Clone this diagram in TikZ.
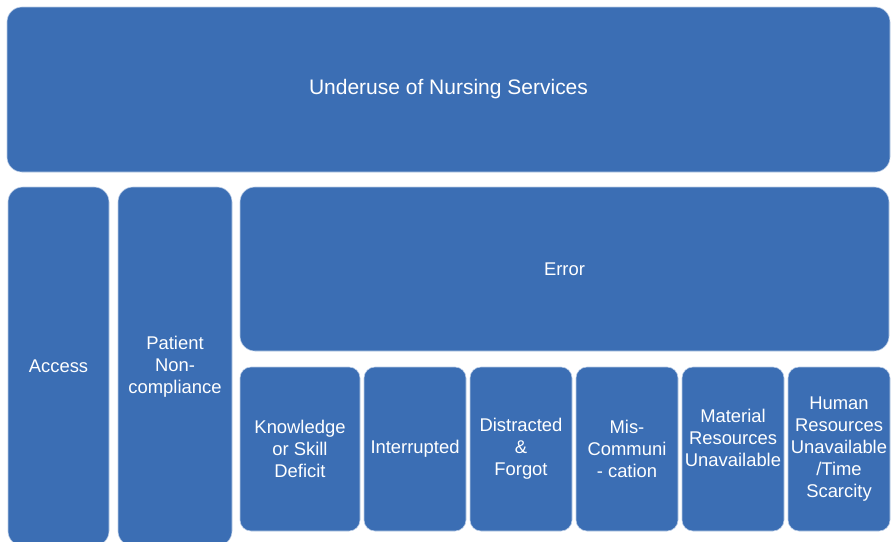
\documentclass[tikz,border=0pt]{standalone}
\usepackage{fontspec}
\setmainfont{Liberation Sans}
\definecolor{boxblue}{RGB}{59,110,180}
\tikzset{
  block/.style={fill=boxblue, draw=white!65!boxblue, line width=0.6pt,
    text=white, align=center, inner sep=0pt, anchor=center},
  bigblock/.style={block, rounded corners=15pt},
  smallblock/.style={block, rounded corners=11pt},
  big text/.style={font=\fontsize{21}{25}\selectfont},
  small text/.style={font=\fontsize{18.4}{22}\selectfont},
}
\begin{document}
\begin{tikzpicture}[x=1pt,y=-1pt]
\useasboundingbox (0,0) rectangle (894,541);
\clip (0,0) rectangle (894,541);
% top banner
\node[bigblock, big text, minimum width=883pt, minimum height=165pt] (underuse) at (448.5,89.5) {\raisebox{-2pt}{Underuse of Nursing Services}};
% left columns
\node[bigblock, small text, minimum width=101pt, minimum height=359pt] (access) at (58.5,366.5) {Access};
\node[bigblock, small text, minimum width=114pt, minimum height=359pt] (patient) at (175,366.5) {Patient\\Non-\\compliance};
% error banner
\node[bigblock, small text, minimum width=649pt, minimum height=164pt] (error) at (564.5,269) {Error};
% error causes
\node[smallblock, small text, minimum width=120pt, minimum height=164pt] (knowledge) at (300,449) {Knowledge\\or Skill\\Deficit};
\node[smallblock, small text, minimum width=102pt, minimum height=164pt] (interrupted) at (415,449) {Interrupted};
\node[smallblock, small text, minimum width=102pt, minimum height=164pt] (distracted) at (521,449) {Distracted\\\&\\Forgot};
\node[smallblock, small text, minimum width=102pt, minimum height=164pt] (miscomm) at (627,449) {Mis-\\Communi\\- cation};
\node[smallblock, small text, minimum width=102pt, minimum height=164pt] (material) at (733,449) {Material\\Resources\\Unavailable\\\mbox{}};
\node[smallblock, small text, minimum width=102pt, minimum height=164pt] (human) at (839,449) {Human\\Resources\\Unavailable\\/Time\\Scarcity};
\end{tikzpicture}
\end{document}
